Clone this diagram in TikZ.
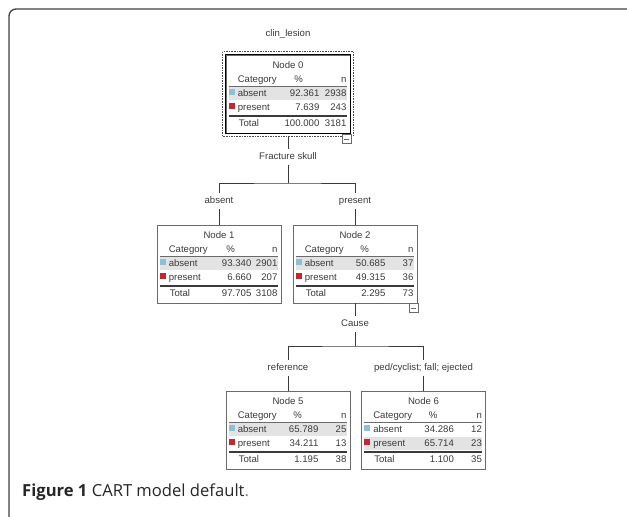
\documentclass[tikz,border=0pt]{standalone}
\usepackage{fontspec}
\setmainfont{Liberation Sans}
\newfontfamily\capfont{Open Sans}
\usetikzlibrary{calc}

\definecolor{txtgray}{HTML}{3A3A3A}
\definecolor{boxgray}{HTML}{6A6A6A}
\definecolor{rowgray}{HTML}{E3E3E3}
\definecolor{absblue}{HTML}{8DBFD6}
\definecolor{presred}{HTML}{C22832}

\begin{document}
\begin{tikzpicture}[x=1pt,y=-1pt,
  treebox/.style={draw=boxgray,line width=0.9pt,minimum width=124pt,minimum height=78pt,inner sep=0pt},
  cell/.style={inner sep=0pt,text=txtgray,font=\fontsize{9.6}{11}\selectfont,text height=6.9pt,text depth=1.9pt},
  split/.style={cell,inner sep=3pt},
  link/.style={draw=txtgray,line width=0.8pt},
  minus/.style={draw=boxgray,fill=white,minimum size=9pt,inner sep=0pt,line width=0.7pt}]

  \clip (0,0) rectangle (627,517);
  %% Outer frame of the figure
  \draw[line width=1.3pt,black!75,rounded corners=7pt] (9,530) -- (9,9) -- (640,9);

  \node[cell] (TGT) at (288,34) {clin\_lesion};

  %% Building the tree nodes: name/x/y/pct col/abs%/absn/pres%/presn/tot%/totn/shaded row
  \foreach \nm/\cx/\cy/\pr/\ap/\an/\pp/\pn/\tp/\tn/\shy in
    {0/288/94/94/92.361/2938/7.639/243/100.000/3181/39,
     1/219/264/95/93.340/2901/6.660/207/97.705/3108/39,
     2/355/264/93/50.685/37/49.315/36/2.295/73/39,
     5/288/430/93/65.789/25/34.211/13/1.195/38/39,
     6/423.5/430/93/34.286/12/65.714/23/1.100/35/53}
  {
    \node[treebox] (N\nm) at (\cx,\cy) {};
    \fill[rowgray] ($(N\nm.north west)+(3,\shy-6.5)$) rectangle ($(N\nm.north west)+(121,\shy+6.5)$);
    \node[cell] at ($(N\nm.north)+(0,11)$) {Node \nm};
    %% header row
    \node[cell,anchor=west] at ($(N\nm.north west)+(12,25)$) {Category};
    \node[cell] at ($(N\nm.north west)+(\pr-21,25)$) {\%};
    \node[cell,anchor=east] at ($(N\nm.north west)+(121,25)$) {n};
    \draw[boxgray,line width=1.2pt] ($(N\nm.north west)+(3,32)$) -- ($(N\nm.north west)+(121,32)$);
    %% category rows
    \fill[absblue] ($(N\nm.north west)+(3,34)$) rectangle +(6,6);
    \fill[presred] ($(N\nm.north west)+(3,48)$) rectangle +(6,6);
    \node[cell,anchor=west] at ($(N\nm.north west)+(12,39)$) {absent};
    \node[cell,anchor=east] at ($(N\nm.north west)+(\pr,39)$) {\ap};
    \node[cell,anchor=east] at ($(N\nm.north west)+(121,39)$) {\an};
    \node[cell,anchor=west] at ($(N\nm.north west)+(12,53)$) {present};
    \node[cell,anchor=east] at ($(N\nm.north west)+(\pr,53)$) {\pp};
    \node[cell,anchor=east] at ($(N\nm.north west)+(121,53)$) {\pn};
    \draw[txtgray,line width=2pt] ($(N\nm.north west)+(3,61)$) -- ($(N\nm.north west)+(121,61)$);
    %% total row
    \node[cell,anchor=west] at ($(N\nm.north west)+(13,69)$) {Total};
    \node[cell,anchor=east] at ($(N\nm.north west)+(\pr,69)$) {\tp};
    \node[cell,anchor=east] at ($(N\nm.north west)+(121,69)$) {\tn};
  }

  %% Selected root node and collapse buttons
  \draw[black,line width=1.8pt] (N0.north west) rectangle (N0.south east);
  \draw[black!70,line width=1.6pt,densely dotted] ($(N0.north west)+(-3,-3)$) rectangle ($(N0.south east)+(3,3)$);
  \foreach \nm/\dy in {0/1,2/0}
  {
    \node[minus,anchor=north east] (M\nm) at ($(N\nm.south east)+(1,\dy)$) {};
    \draw[boxgray,line width=0.7pt] ($(M\nm.west)!0.25!(M\nm.east)$) -- ($(M\nm.west)!0.75!(M\nm.east)$);
  }

  %% Split labels
  \node[split] (F0) at (288,157) {Fracture skull};
  \node[split] (A1) at (219,201) {absent};
  \node[split] (P2) at (355,201) {present};
  \node[split] (C2) at (355,324) {Cause};
  \node[split] (R5) at (288,368) {reference};
  \node[split] (Q6) at (423.5,368) {ped/cyclist; fall; ejected};
  \coordinate (J0) at (288,183);
  \coordinate (J2) at (355,346);

  %% Drawing the branches
  \draw[link] (N0.south |- 0,137) -- (F0.north);
  \draw[link] (F0.south) -- (J0);
  \draw[link] (A1.north) |- (J0) -| (P2.north);
  \draw[link] (A1.south) -- (N1.north);
  \draw[link] (P2.south) -- (N2.north);
  \draw[link] (N2.south) -- (C2.north);
  \draw[link] (C2.south) -- (J2);
  \draw[link] (R5.north) |- (J2) -| (Q6.north);
  \draw[link] (R5.south) -- (N5.north);
  \draw[link] (Q6.south) -- (N6.north);

  %% Caption
  \node[anchor=base west,inner sep=0pt,text=black!85] (CAP) at (22,496)
    {\capfont\fontsize{16.6}{19}\selectfont\bfseries Figure 1 \mdseries CART model default\textcolor{black!50}{.}};
\end{tikzpicture}
\end{document}
